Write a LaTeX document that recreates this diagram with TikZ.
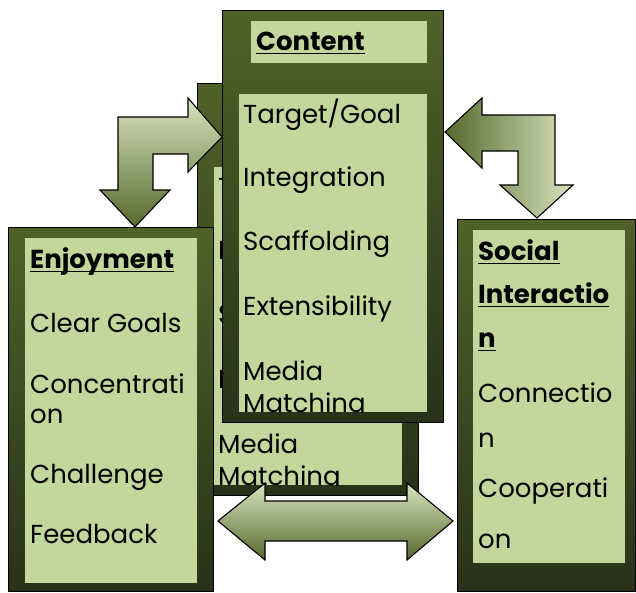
\documentclass[tikz,border=0pt]{standalone}
\usepackage{fontspec}
\setmainfont{Poppins}
\usetikzlibrary{positioning, calc}

\definecolor{olivetop}{HTML}{4F6228}
\definecolor{olivebot}{HTML}{28321A}
\definecolor{olivelight}{HTML}{C3D69B}
\definecolor{arrowlight}{HTML}{D8E4BE}
\definecolor{arrowdark}{HTML}{56692D}

% one content card, #1 = prefix of the node names
\newcommand{\contentcard}[1]{%
  \node[outerbox, minimum width=221pt, minimum height=412pt](#1box) at (222,10) {};
  \node[lightbox, minimum width=176pt, minimum height=42pt](#1head) at (251,21) {};
  \node[lightbox, minimum width=188pt, minimum height=318pt](#1body) at (239,94) {};
  \node[titletext](#1title) at (256,50) {Content};
  \draw[titleline] ([yshift=-3.5pt]#1title.base west) -- ([yshift=-3.5pt]#1title.base east);
  \begin{scope}
    \clip (#1body.north west) rectangle (#1body.south east);
    \node[itemtext](#1goal) at (243,123) {Target/Goal};
    \node[itemtext](#1integ) at (243,186) {Integration};
    \node[itemtext](#1scaff) at (243,250) {Scaffolding};
    \node[itemtext](#1ext) at (243,315) {Extensibility};
    \node[itemtext](#1media) at (243,380) {Media};
    \node[itemtext](#1match) at (243,412) {Matching};
  \end{scope}
}

\begin{document}
\begin{tikzpicture}[x=1pt, y=-1pt,
    outerbox/.style={rectangle, draw=black, line width=1.4pt, anchor=north west,
        top color=olivetop, bottom color=olivebot, inner sep=0pt},
    lightbox/.style={rectangle, fill=olivelight, anchor=north west, inner sep=0pt},
    itemtext/.style={anchor=base west, inner sep=0pt, font=\fontsize{26}{30}\selectfont},
    titletext/.style={anchor=base west, inner sep=0pt, font=\fontsize{26}{30}\selectfont\bfseries},
    titleline/.style={line width=1.8pt},
    blockarrow/.style={draw=black, line width=1.1pt, line join=miter},
]
\useasboundingbox (0,0) rectangle (636,592);

% card behind
\begin{scope}[shift={(-25,73)}]
  \contentcard{back}
\end{scope}

% front card
\contentcard{front}

% Enjoyment
\node[outerbox, minimum width=205pt, minimum height=364pt](enjoy) at (8,227) {};
\node[lightbox, minimum width=172pt, minimum height=345pt](enjoybody) at (25,238) {};
\node[titletext](enjoytitle) at (30,268) {Enjoyment};
\draw[titleline] ([yshift=-3.5pt]enjoytitle.base west) -- ([yshift=-3.5pt]enjoytitle.base east);
\node[itemtext](goals) at (30,332) {Clear Goals};
\node[itemtext](conc) at (30,393) {Concentrati};
\node[itemtext](conc2) at (30,423) {on};
\node[itemtext](chall) at (30,483) {Challenge};
\node[itemtext](feed) at (30,543) {Feedback};

% Social Interaction
\node[outerbox, minimum width=178pt, minimum height=372pt](social) at (457,219) {};
\node[lightbox, minimum width=152pt, minimum height=333pt](socialbody) at (473,230) {};
\node[titletext](soc1) at (478,260) {Social};
\node[titletext](soc2) at (478,303) {Interactio};
\node[titletext](soc3) at (478,347) {n};
\foreach \t in {soc1,soc2,soc3}
  \draw[titleline] ([yshift=-3.5pt]\t.base west) -- ([yshift=-3.5pt]\t.base east);
\node[itemtext](connect) at (478,402) {Connectio};
\node[itemtext](connect2) at (478,447) {n};
\node[itemtext](coop) at (478,497) {Cooperati};
\node[itemtext](coop2) at (478,548) {on};

% arrows
\path[blockarrow, top color=arrowlight, bottom color=arrowdark]
  (222,137) -- (188,98) -- (188,117) -- (118,117) -- (118,190) -- (100,190)
  -- (135,227) -- (170,190) -- (153,190) -- (153,154) -- (188,154) -- (188,172) -- cycle;
\path[blockarrow, left color=arrowdark, right color=arrowlight]
  (445,132) -- (482,98) -- (482,115) -- (555,115) -- (555,185) -- (573,185)
  -- (537,218) -- (500,185) -- (518,185) -- (518,151) -- (482,151) -- (482,168) -- cycle;
\path[blockarrow, top color=arrowlight, bottom color=arrowdark]
  (218,521) -- (265,483) -- (265,501) -- (407,501) -- (407,483) -- (453,521)
  -- (407,560) -- (407,541) -- (265,541) -- (265,560) -- cycle;
\end{tikzpicture}
\end{document}
